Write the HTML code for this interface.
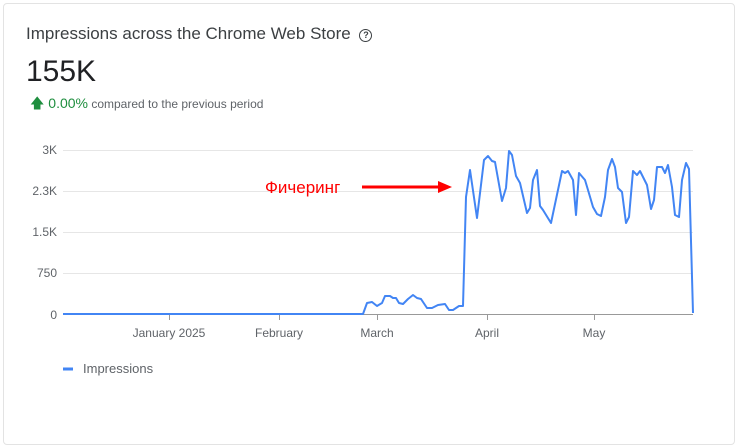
<!DOCTYPE html>
<html><head><meta charset="utf-8"><style>
body{margin:0;width:738px;height:401px;background:#fff;font-family:"Liberation Sans","Noto Sans CJK SC",sans-serif;overflow:hidden;position:relative}
.card{position:absolute;left:3px;top:3px;width:730px;height:440px;border:1px solid #e3e3e3;border-radius:4px}
.t{position:absolute;left:26px;top:24px;font-size:17px;color:#3c4043}
.big{position:absolute;left:26px;top:55px;font-size:30px;color:#202124}
.cmp{position:absolute;left:30px;top:93px;font-size:12px;color:#5f6368}
.cmp b{font-weight:normal;color:#1e8e3e;font-size:14px}
</style></head><body>
<div class="card"></div>
<div class="t">Impressions across the Chrome Web Store <span style="display:inline-block;width:11px;height:11px;border:1.5px solid #3c4043;border-radius:50%;font-size:9px;line-height:11px;text-align:center;vertical-align:1px;margin-left:4px;font-weight:bold">?</span></div>
<div class="big">155K</div>
<div class="cmp"><b>&#129093; 0.00%</b> compared to the previous period</div>
<svg width="738" height="401" style="position:absolute;left:0;top:0">
<g stroke="#e6e6e6" stroke-width="1">
<line x1="63" x2="693" y1="150.5" y2="150.5"/><line x1="63" x2="693" y1="191.5" y2="191.5"/><line x1="63" x2="693" y1="232.5" y2="232.5"/><line x1="63" x2="693" y1="273.5" y2="273.5"/>
</g>
<line x1="63" x2="693" y1="314.5" y2="314.5" stroke="#999"/>
<g stroke="#999"><line x1="169.5" x2="169.5" y1="315" y2="320"/><line x1="279.5" x2="279.5" y1="315" y2="320"/><line x1="377.5" x2="377.5" y1="315" y2="320"/><line x1="487.5" x2="487.5" y1="315" y2="320"/><line x1="594.5" x2="594.5" y1="315" y2="320"/></g>
<g font-size="12" fill="#5f6368" text-anchor="end">
<text x="57" y="154">3K</text><text x="57" y="195">2.3K</text><text x="57" y="236">1.5K</text><text x="57" y="277">750</text><text x="57" y="319">0</text></g>
<g font-size="12" fill="#5f6368" text-anchor="middle">
<text x="169" y="337">January 2025</text><text x="279" y="337">February</text><text x="377" y="337">March</text><text x="487" y="337">April</text><text x="594" y="337">May</text></g>
<polyline fill="none" stroke="#4285f4" stroke-width="2" stroke-linejoin="round" points="63,314 363,314 367,303 372,302 377,306 382,303 385,296 390,296 393,298 396,298 399,303 403,304 408,299 413,295 417,298 421,299 427,308 432,308 438,305 445,304 449,310 453,310 459,306 463,306 466,197 470,170 477,218 484,160 488,156 492,161 495,162 502,201 506,188 509,151 512,155 516,176 520,183 527,213 530,208 533,180 537,170 540,206 543,210 551,223 562,171 565,173 568,171 573,180 576,215 579,173 585,180 588,190 593,207 597,214 601,216 605,197 608,170 612,159 615,167 618,188 622,192 626,223 629,217 633,171 637,175 640,171 647,185 651,209 654,200 657,167 662,167 665,173 668,165 672,187 675,215 679,217 682,180 686,163 689,169 693,313"/>
<text x="265" y="193" font-size="17" fill="#ff0000">Фичеринг</text>
<line x1="362" x2="440" y1="187" y2="187" stroke="#ff0000" stroke-width="3"/>
<polygon points="438,181 452,187 438,193" fill="#ff0000"/>
<line x1="63" x2="73" y1="369" y2="369" stroke="#4285f4" stroke-width="3"/>
<text x="83" y="373" font-size="13" fill="#5f6368">Impressions</text>
</svg>
</body></html>
